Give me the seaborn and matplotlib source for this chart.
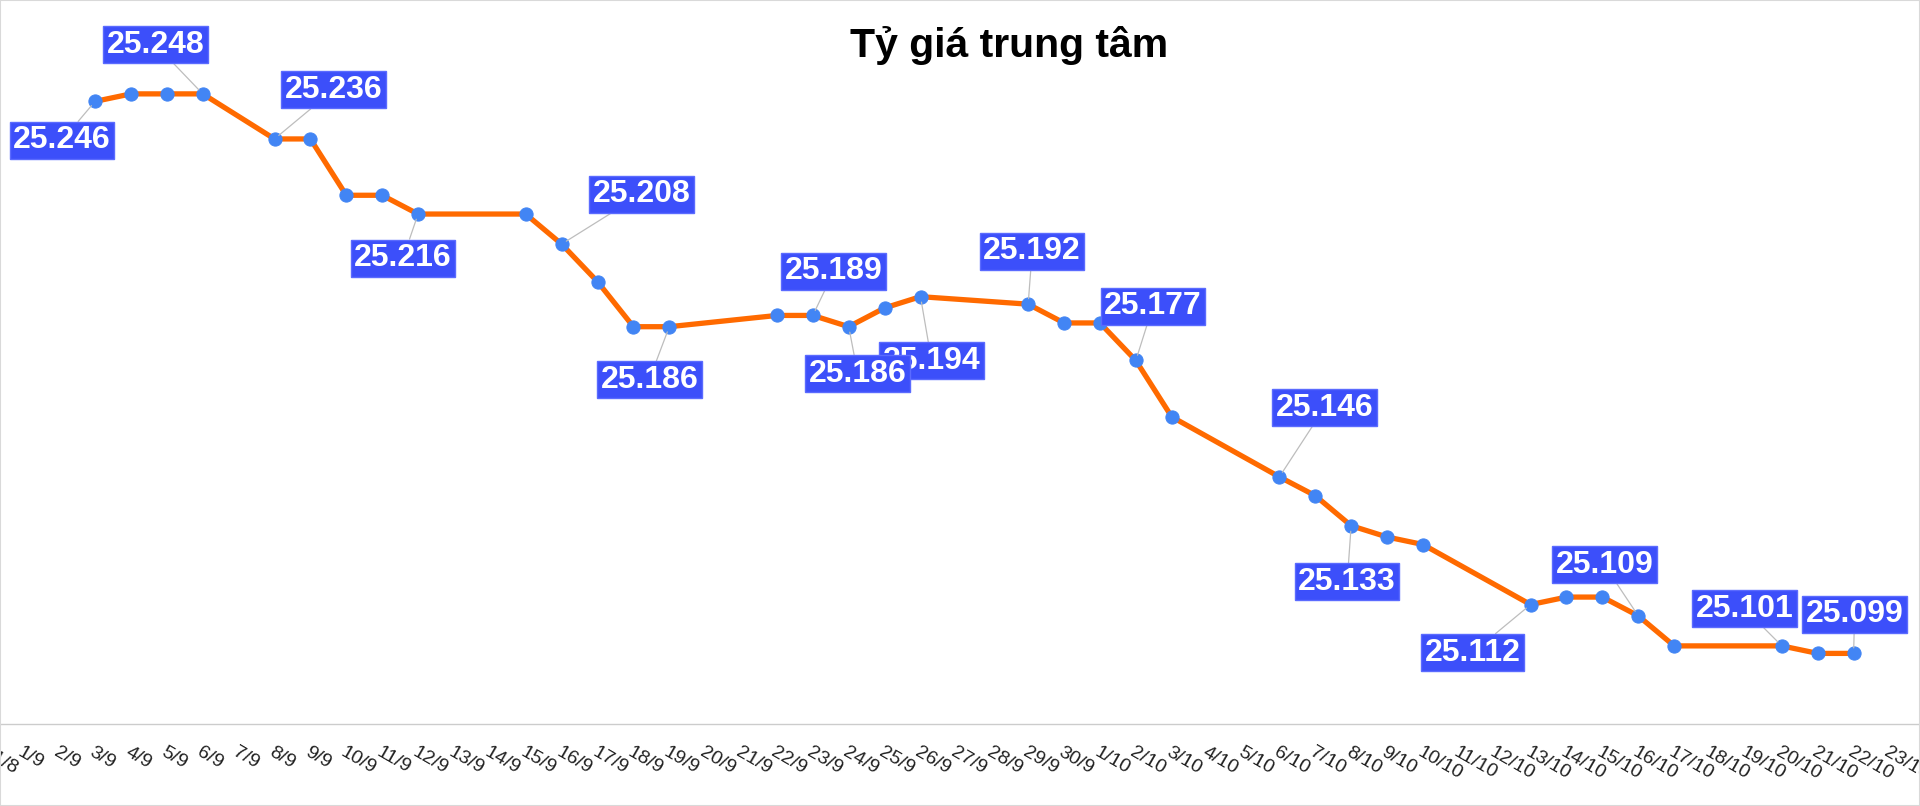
import pandas as pd
import seaborn as sns
import matplotlib.pyplot as plt
from matplotlib.patches import Rectangle

# All days shown on the x axis
all_days = ["31/8",
            "1/9", "2/9", "3/9", "4/9", "5/9", "6/9", "7/9", "8/9", "9/9", "10/9",
            "11/9", "12/9", "13/9", "14/9", "15/9", "16/9", "17/9", "18/9", "19/9", "20/9",
            "21/9", "22/9", "23/9", "24/9", "25/9", "26/9", "27/9", "28/9", "29/9", "30/9",
            "1/10", "2/10", "3/10", "4/10", "5/10", "6/10", "7/10", "8/10", "9/10", "10/10",
            "11/10", "12/10", "13/10", "14/10", "15/10", "16/10", "17/10", "18/10", "19/10", "20/10",
            "21/10", "22/10", "23/10"]

# Days with a published central rate
dates = ["3/9", "4/9", "5/9", "6/9", "8/9", "9/9", "10/9", "11/9", "12/9", "15/9",
         "16/9", "17/9", "18/9", "19/9", "22/9", "23/9", "24/9", "25/9", "26/9", "29/9",
         "30/9", "1/10", "2/10", "3/10", "6/10", "7/10", "8/10", "9/10", "10/10", "13/10",
         "14/10", "15/10", "16/10", "17/10", "20/10", "21/10", "22/10"]
rates = [25.246, 25.248, 25.248, 25.248, 25.236, 25.236, 25.221, 25.221, 25.216, 25.216,
         25.208, 25.198, 25.186, 25.186, 25.189, 25.189, 25.186, 25.191, 25.194, 25.192,
         25.187, 25.187, 25.177, 25.162, 25.146, 25.141, 25.133, 25.130, 25.128, 25.112,
         25.114, 25.114, 25.109, 25.101, 25.101, 25.099, 25.099]

# Which points get a value label
label_dates = ["3/9", "6/9", "8/9", "12/9", "16/9", "19/9", "23/9", "26/9", "24/9", "29/9",
               "2/10", "6/10", "8/10", "13/10", "16/10", "20/10", "22/10"]
# label box offsets from the point, in pixels (layout only)
label_offsets = [(-33, -39), (-47, 49), (59, 49), (-15, -44), (80, 50), (-20, -53),
                 (21, 44), (11, -64), (9, -47), (4, 53), (17, 54), (45, 69), (-4, -56),
                 (-58, -48), (-34, 51), (-37, 37), (1, 39)]

df = pd.DataFrame({"date": dates, "rate": rates})
df["pos"] = df["date"].map({d: i for i, d in enumerate(all_days)})

sns.set_style("white")
plt.rcParams["font.family"] = ["Liberation Sans", "DejaVu Sans"]

fig = plt.figure(figsize=(19.2, 8.06), dpi=100)
ax = fig.add_axes([0, 1 - 724 / 806, 1, 724 / 806])

sns.lineplot(data=df, x="pos", y="rate", ax=ax, color="#ff6a00", linewidth=3.8,
             marker="o", markersize=9.5, markerfacecolor="#4285f4",
             markeredgecolor="#4285f4", zorder=3)

# value labels
for d, (dx, dy) in zip(label_dates, label_offsets):
    row = df[df["date"] == d].iloc[0]
    ax.annotate(f"{row['rate']:.3f}", xy=(row["pos"], row["rate"]),
                xytext=(dx, dy), textcoords="offset pixels",
                ha="center", va="center", fontsize=23, fontweight="bold", color="white",
                bbox=dict(boxstyle="square,pad=0.11", fc="#3c4ffa", ec="#5b6bff", lw=1),
                arrowprops=dict(arrowstyle="-", color="#bdbdbd", lw=0.9,
                                shrinkA=0, shrinkB=4),
                zorder=5)

tick_len, tick_pad, tick_fs = 8, 6, 14
ax.set_xticks(range(len(all_days)))
ax.set_xticklabels(all_days, rotation=-30, ha="left", va="top",
                   rotation_mode="anchor", fontsize=tick_fs, color="#222222")
# limits after the ticks, otherwise set_xticks widens the view
ax.set_xlim(0.351, 53.85)
ax.set_ylim(25.0802, 25.2730)
ax.tick_params(axis="x", length=tick_len, width=1, color="#cccccc", pad=tick_pad,
               direction="out")

# the first day sits just left of the view: matplotlib drops its tick label, so draw it
ax.annotate(all_days[0], xy=(0, 0), xycoords=("data", "axes fraction"),
            xytext=(0, -(tick_len + tick_pad)), textcoords="offset points",
            rotation=-30, ha="left", va="top", rotation_mode="anchor",
            fontsize=tick_fs, color="#222222", annotation_clip=False)

ax.set_yticks([])
ax.set_xlabel("")
ax.set_ylabel("")
for s in ["left", "right", "top"]:
    ax.spines[s].set_visible(False)
ax.spines["bottom"].set_color("#cccccc")
ax.spines["bottom"].set_linewidth(1)
ax.patch.set_alpha(0)

fig.text(1009 / 1920, 1 - 57 / 806, "Tỷ giá trung tâm", ha="center", va="baseline",
         fontsize=29.5, fontweight="bold", color="black")

# light frame around the whole picture
fig.patches.append(Rectangle((0, 0), 1, 1, transform=fig.transFigure, fill=False,
                             edgecolor="#d9d9d9", linewidth=1.5))

fig.savefig("out.png", dpi=100)
